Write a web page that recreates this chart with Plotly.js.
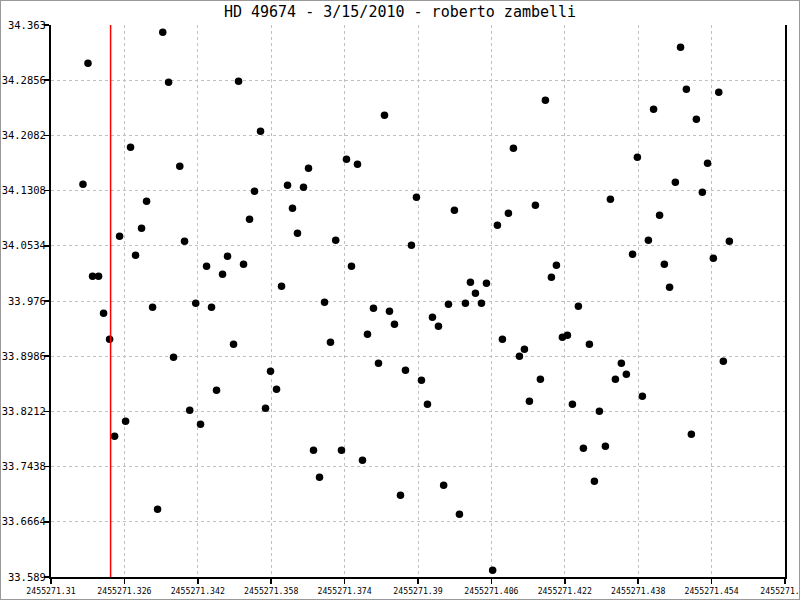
<!DOCTYPE html>
<html>
<head>
<meta charset="utf-8">
<script src="https://cdn.plot.ly/plotly-3.0.1.min.js"></script>
<style>
  html, body { margin: 0; padding: 0; background: #fff; }
  #frame { width: 798px; height: 598px; border: 1px solid #999; }
  #chart { width: 798px; height: 598px; }
</style>
</head>
<body>
<div id="frame"><div id="chart"></div></div>
<script>
// Julian dates of the observations
const jd = [
  2455271.31697, 2455271.31806, 2455271.31906, 2455271.32037, 2455271.32146, 2455271.32277,
  2455271.32386, 2455271.32495, 2455271.32626, 2455271.32734, 2455271.32843, 2455271.32974,
  2455271.33083, 2455271.33214, 2455271.33323, 2455271.33436, 2455271.33563, 2455271.33671,
  2455271.33807, 2455271.33911, 2455271.34024, 2455271.34155, 2455271.34260, 2455271.34391,
  2455271.34499, 2455271.34608, 2455271.34739, 2455271.34848, 2455271.34979, 2455271.35088,
  2455271.35197, 2455271.35328, 2455271.35436, 2455271.35567, 2455271.35676, 2455271.35785,
  2455271.35916, 2455271.36025, 2455271.36156, 2455271.36264, 2455271.36373, 2455271.36504,
  2455271.36613, 2455271.36722, 2455271.36853, 2455271.36962, 2455271.37092, 2455271.37206,
  2455271.37332, 2455271.37441, 2455271.37550, 2455271.37681, 2455271.37790, 2455271.37899,
  2455271.38029, 2455271.38138, 2455271.38269, 2455271.38378, 2455271.38487, 2455271.38618,
  2455271.38727, 2455271.38857, 2455271.38966, 2455271.39075, 2455271.39206, 2455271.39315,
  2455271.39446, 2455271.39559, 2455271.39664, 2455271.39794, 2455271.39903, 2455271.40034,
  2455271.40143, 2455271.40252, 2455271.40383, 2455271.40492, 2455271.40627, 2455271.40731,
  2455271.40840, 2455271.40971, 2455271.41080, 2455271.41211, 2455271.41320, 2455271.41429,
  2455271.41559, 2455271.41668, 2455271.41777, 2455271.41908, 2455271.42017, 2455271.42148,
  2455271.42257, 2455271.42366, 2455271.42496, 2455271.42605, 2455271.42736, 2455271.42845,
  2455271.42954, 2455271.43085, 2455271.43194, 2455271.43303, 2455271.43433, 2455271.43542,
  2455271.43677, 2455271.43782, 2455271.43891, 2455271.44022, 2455271.44135, 2455271.44266,
  2455271.44370, 2455271.44484, 2455271.44610, 2455271.44723, 2455271.44850, 2455271.44959,
  2455271.45068, 2455271.45198, 2455271.45312, 2455271.45438, 2455271.45556, 2455271.45656,
  2455271.45787
];

// Measured values
const mag = [
  34.1396, 34.3093, 34.0106, 34.0106, 33.9588, 33.9223,
  33.7863, 34.0667, 33.8073, 34.1915, 34.0401, 34.0779,
  34.1158, 33.9672, 33.6839, 34.3528, 34.2827, 33.8971,
  34.1649, 34.0597, 33.8227, 33.9728, 33.8031, 34.0247,
  33.9672, 33.8508, 34.0134, 34.0387, 33.9153, 34.2841,
  34.0275, 34.0906, 34.1298, 34.2140, 33.8255, 33.8774,
  33.8522, 33.9966, 34.1382, 34.1060, 34.0709, 34.1354,
  34.1621, 33.7666, 33.7288, 33.9742, 33.9181, 34.0611,
  33.7666, 34.1747, 34.0247, 34.1677, 33.7526, 33.9293,
  33.9658, 33.8886, 34.2364, 33.9616, 33.9433, 33.7036,
  33.8788, 34.0541, 34.1214, 33.8648, 33.8312, 33.9531,
  33.9405, 33.7176, 33.9714, 34.1032, 33.6769, 33.9728,
  34.0022, 33.9868, 33.9728, 34.0008, 33.5984, 34.0821,
  33.9223, 34.0990, 34.1901, 33.8985, 33.9083, 33.8354,
  34.1102, 33.8662, 34.2574, 34.0092, 34.0261, 33.9251,
  33.9279, 33.8312, 33.9686, 33.7695, 33.9153, 33.7232,
  33.8213, 33.7723, 34.1186, 33.8662, 33.8886, 33.8732,
  34.0415, 34.1775, 33.8424, 34.0611, 34.2448, 34.0962,
  34.0275, 33.9952, 34.1424, 34.3317, 34.2728, 33.7891,
  34.2308, 34.1284, 34.1691, 34.0359, 34.2686, 33.8914,
  34.0597
];

// Marked instant (red vertical line)
const markerTime = 2455271.32299;

// Axis ticks
const xTickLabels = ["2455271.31", "2455271.326", "2455271.342", "2455271.358", "2455271.374",
                     "2455271.39", "2455271.406", "2455271.422", "2455271.438", "2455271.454", "2455271.47"];
const yTickLabels = ["33.589", "33.6664", "33.7438", "33.8212", "33.8986", "33.976",
                     "34.0534", "34.1308", "34.2082", "34.2856", "34.363"];
const titleText = "HD 49674 - 3/15/2010 - roberto zambelli";

const xTickVals = xTickLabels.map(Number);
const yTickVals = yTickLabels.map(Number);

const mono = "DejaVu Sans Mono, Liberation Mono, monospace";

const trace = {
  x: jd, y: mag, type: "scatter", mode: "markers",
  marker: { color: "#000", size: 7.5, line: { width: 0 } },
  hoverinfo: "skip", showlegend: false
};

const axisCommon = {
  showline: true, linecolor: "#000", linewidth: 2,
  ticks: "outside", ticklen: 5, tickwidth: 1.5, tickcolor: "#000",
  showgrid: true, gridcolor: "#c0c0c0", gridwidth: 1, griddash: "3px,3px",
  zeroline: false, tickmode: "array"
};

const layout = {
  width: 798, height: 598,
  margin: { l: 50, r: 14, t: 24, b: 22 },
  paper_bgcolor: "#fff", plot_bgcolor: "#fff",
  font: { family: mono, color: "#000" },
  title: {
    text: titleText, font: { family: mono, size: 15, color: "#000" },
    xref: "container", x: 0.5, xanchor: "center",
    yref: "container", y: 1 - 11 / 598, yanchor: "middle"
  },
  xaxis: Object.assign({}, axisCommon, {
    range: [xTickVals[0], xTickVals[xTickVals.length - 1]],
    tickvals: xTickVals, ticktext: xTickLabels,
    tickfont: { family: mono, size: 8.2, color: "#000" },
    ticklabeloverflow: "allow", mirror: false, ticklabelstandoff: 0
  }),
  yaxis: Object.assign({}, axisCommon, {
    range: [yTickVals[0], yTickVals[yTickVals.length - 1]],
    tickvals: yTickVals, ticktext: yTickLabels,
    tickfont: { family: mono, size: 10.5, color: "#000" },
    mirror: true, ticklabelstandoff: -4
  }),
  shapes: [{
    type: "line", xref: "x", yref: "paper",
    x0: markerTime, x1: markerTime, y0: 0, y1: 1,
    line: { color: "#ff0000", width: 1.5 }
  }]
};

Plotly.newPlot("chart", [trace], layout, { staticPlot: true, displayModeBar: false });
</script>
</body>
</html>
